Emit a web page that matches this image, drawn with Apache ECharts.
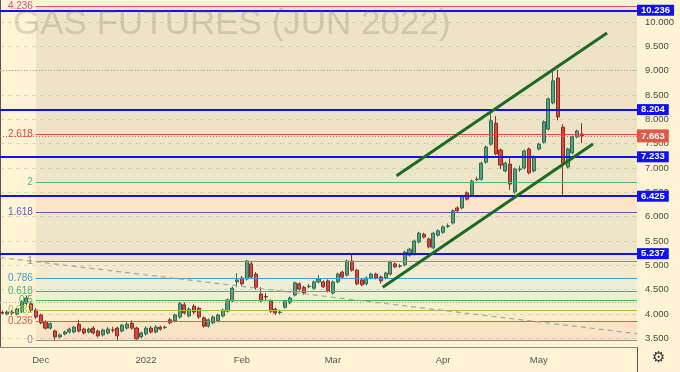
<!DOCTYPE html>
<html><head><meta charset="utf-8">
<script src="https://cdn.jsdelivr.net/npm/echarts@6/dist/echarts.min.js"></script>
<style>html,body{margin:0;padding:0;background:#fef4d3}#c{width:680px;height:372px}</style>
</head><body><div id="c"></div><script>
const dates = [
'2021-11-18','2021-11-19','2021-11-22','2021-11-23','2021-11-24','2021-11-26','2021-11-29','2021-11-30',
'2021-12-01','2021-12-02','2021-12-03','2021-12-06','2021-12-07','2021-12-08','2021-12-09','2021-12-10','2021-12-13','2021-12-14','2021-12-15','2021-12-16','2021-12-17','2021-12-20','2021-12-21','2021-12-22','2021-12-23','2021-12-27','2021-12-28','2021-12-29','2021-12-30','2021-12-31',
'2022-01-03','2022-01-04','2022-01-05','2022-01-06','2022-01-07','2022-01-10','2022-01-11','2022-01-12','2022-01-13','2022-01-14','2022-01-18','2022-01-19','2022-01-20','2022-01-21','2022-01-24','2022-01-25','2022-01-26','2022-01-27','2022-01-28','2022-01-31',
'2022-02-01','2022-02-02','2022-02-03','2022-02-04','2022-02-07','2022-02-08','2022-02-09','2022-02-10','2022-02-11','2022-02-14','2022-02-15','2022-02-16','2022-02-17','2022-02-18','2022-02-22','2022-02-23','2022-02-24','2022-02-25','2022-02-28',
'2022-03-01','2022-03-02','2022-03-03','2022-03-04','2022-03-07','2022-03-08','2022-03-09','2022-03-10','2022-03-11','2022-03-14','2022-03-15','2022-03-16','2022-03-17','2022-03-18','2022-03-21','2022-03-22','2022-03-23','2022-03-24','2022-03-25','2022-03-28','2022-03-29','2022-03-30','2022-03-31',
'2022-04-01','2022-04-04','2022-04-05','2022-04-06','2022-04-07','2022-04-08','2022-04-11','2022-04-12','2022-04-13','2022-04-14','2022-04-18','2022-04-19','2022-04-20','2022-04-21','2022-04-22','2022-04-25','2022-04-26','2022-04-27','2022-04-28','2022-04-29',
'2022-05-02','2022-05-03','2022-05-04','2022-05-05','2022-05-06','2022-05-09','2022-05-10','2022-05-11','2022-05-12','2022-05-13'
];
const futureSlots = ['f1','f2','f3','f4','f5','f6','f7','f8','f9','f10','f11'];

const opens = [
4.03,4.00,4.04,4.00,4.05,4.22,4.21,4.08,3.98,3.84,
3.71,3.65,3.53,3.59,3.63,3.63,3.79,3.69,3.63,3.71,
3.65,3.57,3.61,3.67,3.71,3.65,3.71,3.81,3.71,3.53,
3.59,3.71,3.63,3.73,3.72,3.88,3.86,3.94,4.19,3.96,
4.16,4.12,3.92,3.75,3.82,3.86,3.96,4.06,4.27,4.66,
4.74,4.72,5.03,4.82,4.41,4.36,4.27,4.10,4.03,4.14,
4.23,4.39,4.62,4.55,4.56,4.53,4.66,4.66,4.68,4.43,
4.66,4.86,4.80,5.09,4.90,4.70,4.62,4.74,4.82,4.76,
4.74,4.82,5.03,4.98,5.01,5.21,5.23,5.48,5.64,5.54,
5.36,5.62,5.68,5.80,5.87,6.18,6.18,6.49,6.45,6.76,
6.77,7.12,7.49,7.92,7.37,6.94,7.08,6.51,6.97,7.00,
7.39,6.94,7.39,7.53,7.80,8.34,8.85,7.84,7.02,7.31,
7.64,7.70];
const closes = [
4.02,4.04,4.02,4.10,4.25,4.33,4.08,3.94,3.82,3.71,
3.80,3.53,3.57,3.63,3.69,3.73,3.65,3.61,3.69,3.61,
3.55,3.67,3.69,3.67,3.55,3.77,3.79,3.71,3.49,3.61,
3.71,3.63,3.73,3.69,3.73,3.82,3.98,4.21,4.02,4.10,
4.04,3.94,3.75,3.88,3.94,3.98,4.08,4.29,4.53,4.70,
4.62,5.09,4.76,4.55,4.27,4.35,4.06,4.02,4.04,4.25,
4.33,4.64,4.51,4.43,4.57,4.66,4.72,4.56,4.47,4.66,
4.82,4.76,5.09,4.90,4.62,4.60,4.74,4.82,4.74,4.68,
4.84,5.07,4.97,4.99,5.27,5.33,5.50,5.66,5.58,5.38,
5.66,5.71,5.79,5.81,6.12,6.12,6.42,6.36,6.73,6.77,
7.10,7.43,7.97,7.29,7.06,7.10,6.67,6.98,6.98,7.35,
6.90,7.23,7.49,7.95,8.42,8.79,8.05,7.10,7.39,7.64,
7.76,7.663];
const highs = [
4.07,4.07,4.08,4.13,4.28,4.38,4.26,4.12,4.01,3.87,
3.83,3.68,3.60,3.66,3.72,3.76,3.88,3.72,3.72,3.75,
3.68,3.70,3.73,3.74,3.74,3.80,3.83,3.87,3.74,3.64,
3.74,3.75,3.77,3.76,3.76,3.92,4.01,4.25,4.24,4.14,
4.20,4.15,3.95,3.91,3.97,4.01,4.11,4.32,4.56,4.84,
4.78,5.11,5.07,4.86,4.55,4.43,4.30,4.13,4.09,4.28,
4.36,4.67,4.65,4.58,4.62,4.69,4.80,4.69,4.71,4.69,
4.85,4.89,5.12,5.23,4.93,4.73,4.77,4.85,4.85,4.79,
4.87,5.10,5.06,5.03,5.30,5.36,5.53,5.69,5.67,5.57,
5.69,5.74,5.82,5.86,6.15,6.21,6.45,6.52,6.76,6.82,
7.13,7.46,8.12,8.07,7.40,7.13,7.20,7.01,7.05,7.38,
7.42,7.26,7.52,7.98,8.45,8.99,9.02,7.90,7.42,7.67,
7.79,7.92];
const lows = [
3.99,3.97,3.98,3.97,4.02,4.18,4.04,3.90,3.79,3.68,
3.68,3.45,3.50,3.56,3.60,3.60,3.62,3.58,3.60,3.58,
3.52,3.54,3.58,3.62,3.45,3.62,3.68,3.68,3.47,3.50,
3.56,3.60,3.60,3.66,3.69,3.79,3.83,3.90,3.99,3.93,
4.00,3.90,3.72,3.72,3.79,3.83,3.93,4.03,4.24,4.55,
4.58,4.69,4.73,4.50,4.24,4.29,4.02,3.98,3.99,4.11,
4.20,4.36,4.48,4.40,4.53,4.50,4.63,4.53,4.44,4.40,
4.63,4.73,4.77,4.87,4.59,4.57,4.59,4.71,4.71,4.62,
4.71,4.79,4.94,4.95,4.98,5.18,5.20,5.45,5.55,5.35,
5.33,5.59,5.65,5.77,5.84,6.09,6.15,6.33,6.42,6.73,
6.74,7.09,7.46,7.26,6.98,6.91,6.55,6.47,6.92,6.97,
6.87,6.91,7.36,7.50,7.77,8.31,7.98,6.42,6.99,7.28,
7.61,7.51];

const priceTicks = [3.5,4.0,4.5,5.0,5.5,6.0,6.5,7.0,7.5,8.0,8.5,9.0,9.5,10.0];
const monthLabels = {'2021-12-01':'Dec','2022-01-03':'2022','2022-02-01':'Feb','2022-03-01':'Mar','2022-04-01':'Apr','2022-05-02':'May'};

// Fibonacci extension drawing
const fibRatios = ['0','0.236','0.382','0.5','0.618','0.786','1','1.618','2','2.618','4.236'];
const fibValues = [3.466,3.848,4.084,4.274,4.465,4.737,5.083,6.082,6.700,7.700,10.316];
const fibColors = ['#8f8f8f','#e0574c','#9cc43c','#4cb84c','#3fb383','#3d9fd6','#8f8f8f','#5b5bc9','#45bd8a','#e04646','#d64f8a'];
const fibFills = ['#fbe4c6','#fbedca','#f4f2cb','#eef1cf','#edefd6','#f3eacf','#efe5cb','#fbe5c5','#ece6c6','#eee3c6'];

// horizontal levels
const blueLevels = [10.236, 8.204, 7.233, 6.425, 5.237];
const lastPrice = 7.663;
const dottedLevels = [9.0, 4.25];
// trend lines: [x(bar units), price]
const upperChannel = [[82.8, 6.842],[126.75, 9.774]];
const lowerChannel = [[79.9, 4.549],[123.8, 7.493]];
const dashedDiag = [[0, 5.163],[133, 3.596]];

const cats = dates.concat(futureSlots);
const N = cats.length;
const FIBX0 = 7.5;
const FONT = '"Liberation Sans", Arial, sans-serif';

const candleData = dates.map((d, i) => [opens[i], closes[i], lows[i], highs[i]]);

const chart = echarts.init(document.getElementById('c'), null, {renderer: 'canvas'});

const bgMarkLines = [];
priceTicks.forEach(v => bgMarkLines.push({yAxis: v, lineStyle: {color: 'rgba(140,140,140,0.28)', type: [4,4], width: 1}}));
Object.keys(monthLabels).forEach(d => {
  const idx = dates.indexOf(d) + 0.5;
  bgMarkLines.push([{coord: [idx, 3.0], lineStyle: {color: 'rgba(140,140,140,0.28)', type: [4,4], width: 1}}, {coord: [idx, 11]}]);
});
fibValues.forEach((v, k) => {
  bgMarkLines.push([
    {coord: [FIBX0, v], lineStyle: {color: fibColors[k], width: 1.2, type: 'solid'},
     label: {show: true, position: 'start', distance: 3, formatter: fibRatios[k], color: fibColors[k], fontSize: 10, fontFamily: FONT}},
    {coord: [N, v]}
  ]);
});
dottedLevels.forEach(v => bgMarkLines.push({yAxis: v, lineStyle: {color: '#a9a49a', type: [1,2], width: 1.2}}));
bgMarkLines.push([{coord: dashedDiag[0], lineStyle: {color: '#a8a59c', type: [5,4], width: 1.2}}, {coord: dashedDiag[1]}]);

const topMarkLines = [];
blueLevels.forEach(v => topMarkLines.push({
  yAxis: v, lineStyle: {color: '#1010f2', width: 2, type: 'solid'},
  label: {show: true, position: 'end', distance: 0, formatter: v.toFixed(3), color: '#fff', backgroundColor: '#1010f2',
          fontSize: 9.5, fontWeight: 'bold', fontFamily: FONT, padding: [1,4,0,4], lineHeight: 10}
}));
topMarkLines.push({
  yAxis: lastPrice, lineStyle: {color: '#e05848', width: 1, type: [1,2]},
  label: {show: true, position: 'end', distance: 0, formatter: lastPrice.toFixed(3), color: '#fff', backgroundColor: '#dc5a47',
          fontSize: 9.5, fontWeight: 'bold', fontFamily: FONT, padding: [2,4,1,4], lineHeight: 10}
});
[upperChannel, lowerChannel].forEach(t => topMarkLines.push([
  {coord: t[0], lineStyle: {color: '#1c6a24', width: 3, type: 'solid'}}, {coord: t[1]}
]));

chart.setOption({
  backgroundColor: '#fef4d3',
  animation: false,
  grid: {left: 0, right: 43, top: 0, bottom: 25, containLabel: false},
  xAxis: [{
    type: 'category', data: cats, boundaryGap: true,
    axisLine: {show: true, lineStyle: {color: '#8f8b80', width: 1}},
    axisTick: {show: false},
    splitLine: {show: false},
    axisLabel: {
      interval: (i, v) => monthLabels[v] !== undefined,
      formatter: v => monthLabels[v] || '',
      color: '#555', fontSize: 9.5, fontFamily: FONT, margin: 8
    }
  }, {
    type: 'value', min: 0, max: N, show: false
  }],
  yAxis: [{
    type: 'value', position: 'right', min: 3.322, max: 10.452, scale: true,
    axisLine: {show: true, lineStyle: {color: '#555', width: 1}},
    axisTick: {show: false, customValues: priceTicks},
    splitLine: {show: false},
    axisLabel: {customValues: priceTicks, formatter: v => v.toFixed(3), color: '#4a4a4a', fontSize: 9.5, fontFamily: FONT, margin: 8}
  }],
  graphic: [
    {type: 'text', left: 13, top: 7, z: 10, silent: true,
     style: {text: 'GAS FUTURES (JUN 2022)', font: '35px "Liberation Sans", Arial, sans-serif', fill: 'rgba(100,90,70,0.21)'}},
    {type: 'line', z: 10, silent: true, shape: {x1: 637.5, y1: 347, x2: 637.5, y2: 372}, style: {stroke: '#555', lineWidth: 1}},
    {type: 'text', left: 652, top: 351, z: 10, silent: true, style: {text: '\u2699', font: '15px "DejaVu Sans"', fill: '#333'}}
  ],
  series: [
    {
      type: 'line', xAxisIndex: 1, yAxisIndex: 0, data: [], z: 1, silent: true,
      markArea: {
        silent: true,
        data: fibFills.map((c, k) => [{coord: [FIBX0, fibValues[k]], itemStyle: {color: c, opacity: 1}}, {coord: [N, fibValues[k+1]]}])
      },
      markLine: {silent: true, symbol: 'none', animation: false, label: {show: false}, data: bgMarkLines}
    },
    {
      type: 'candlestick', xAxisIndex: 0, yAxisIndex: 0, data: candleData, z: 3, barWidth: 3.6,
      itemStyle: {color: '#5a9f7f', color0: '#d9483b', borderColor: '#2f6b50', borderColor0: '#8a2d22', borderWidth: 1}
    },
    {
      type: 'line', xAxisIndex: 1, yAxisIndex: 0, data: [], z: 5, silent: true,
      markLine: {silent: true, symbol: 'none', animation: false, label: {show: false}, data: topMarkLines}
    }
  ]
});
</script></body></html>
